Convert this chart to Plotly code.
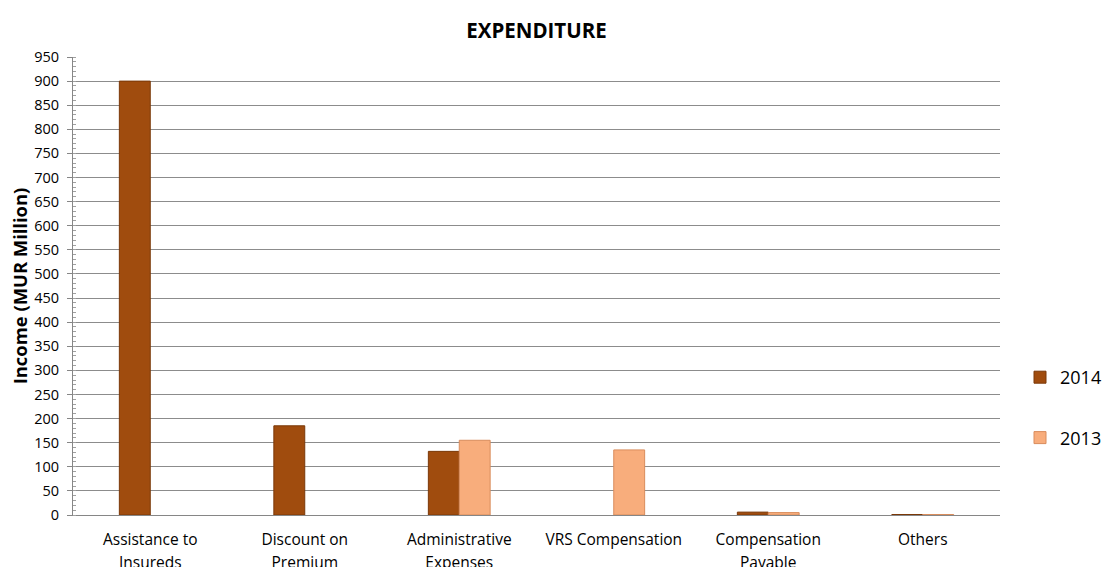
import plotly.graph_objects as go

categories = ["Assistance to<br>Insureds", "Discount on<br>Premium", "Administrative<br>Expenses",
              "VRS Compensation", "Compensation<br>Payable", "Others"]
values_2014 = [900, 185, 132, None, 6, 1]
values_2013 = [None, None, 155, 135, 5, 1]
y_ticks = list(range(0, 951, 50))

# wrap each line so the line spacing follows the (larger) tick font size
labels = ["<br>".join(f"<span style='font-size:15.5px'>{part}</span>" for part in c.split("<br>"))
          for c in categories]

fig = go.Figure()
fig.add_trace(go.Bar(name="2014", x=labels, y=values_2014, legendgroup="a",
                     marker=dict(color="#A04C0E", line=dict(color="#7A3808", width=1))))
fig.add_trace(go.Bar(name="2013", x=labels, y=values_2013, legendgroup="b",
                     marker=dict(color="#F8AD7C", line=dict(color="#D98C5C", width=1))))

fig.update_layout(
    width=1105, height=567,
    margin=dict(l=73, r=105, t=57, b=52, autoexpand=False),
    paper_bgcolor="white", plot_bgcolor="white",
    font=dict(family="'Open Sans', sans-serif", size=13, color="#000000"),
    title=dict(text="<b>EXPENDITURE</b>", x=(73 + 1000) / 2 / 1105, xanchor="center",
               y=1 - 31 / 567, yanchor="middle", font=dict(size=20.5)),
    barmode="group", bargap=0.6, bargroupgap=0,
    legend=dict(xref="container", yref="container", x=1020 / 1105, xanchor="left",
                y=1 - 359 / 567, yanchor="top",
                traceorder="grouped", tracegroupgap=34, font=dict(size=18),
                itemwidth=30, bgcolor="rgba(0,0,0,0)"),
    showlegend=True,
)
fig.update_xaxes(showline=True, linecolor="#868686", linewidth=1, ticks="", tickfont=dict(size=17.7),
                 showgrid=False, ticklabelstandoff=8, automargin=False)
fig.update_yaxes(range=[0, 950], tickvals=y_ticks, showgrid=True, gridcolor="#8C8C8C", gridwidth=1,
                 showline=True, linecolor="#868686", linewidth=1, ticks="outside", ticklen=5,
                 tickcolor="#868686", tickfont=dict(size=14.5), zeroline=False, automargin=False,
                 ticklabelstandoff=5,
                 minor=dict(dtick=10, ticks="inside", ticklen=3, tickcolor="#A0A0A0", showgrid=False),
                 title=dict(text="<b>Income (MUR Million)</b>", font=dict(size=18.4), standoff=1))

fig.write_html("out.html")
